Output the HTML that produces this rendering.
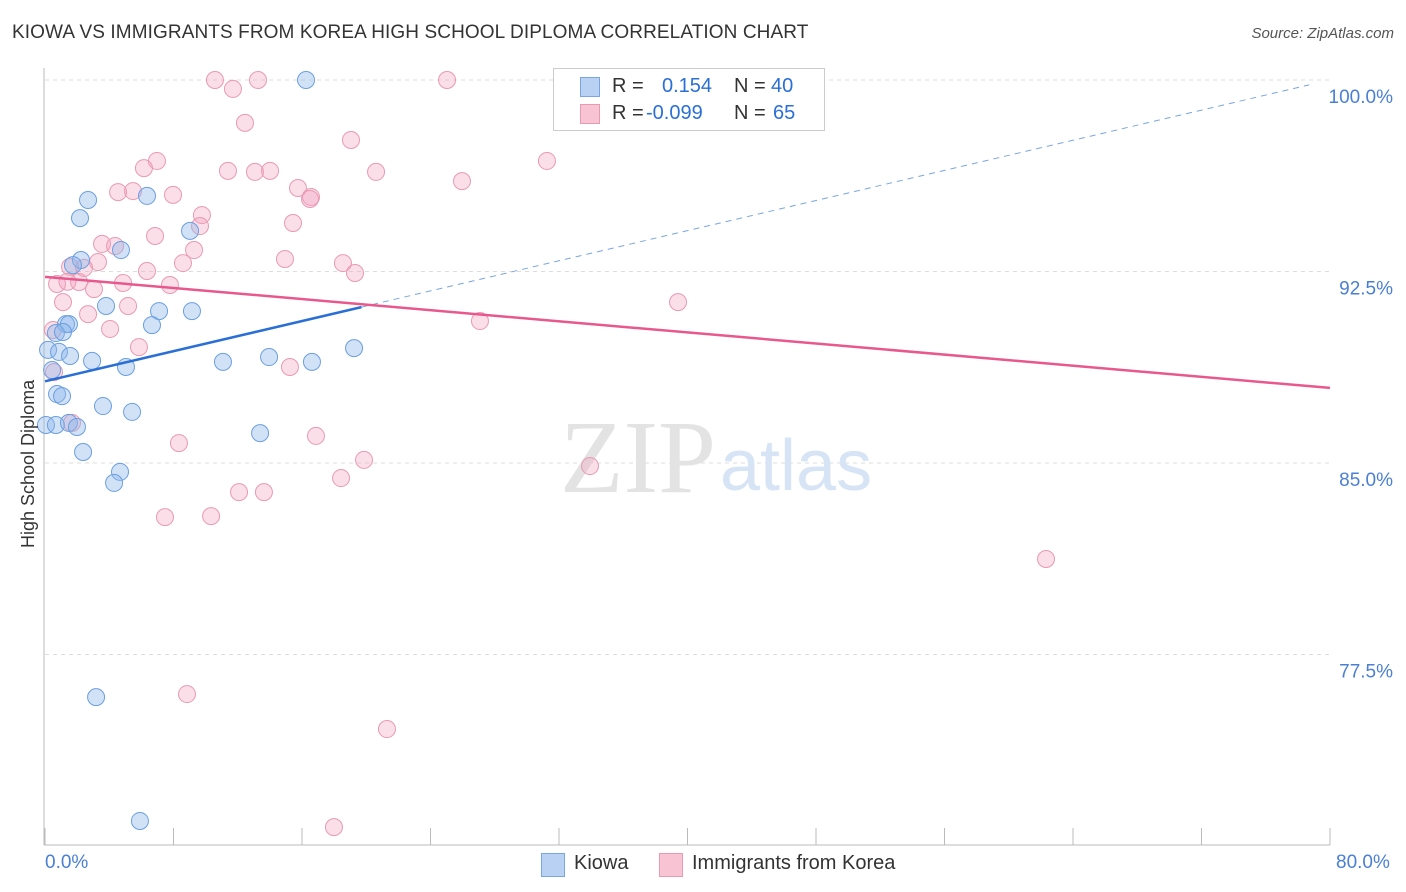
<!DOCTYPE html>
<html><head><meta charset="utf-8"><style>
body{margin:0;background:#fff;font-family:"Liberation Sans",sans-serif}
#wrap{position:relative;width:1406px;height:892px;overflow:hidden}
.t{position:absolute;white-space:nowrap}
</style></head><body>
<div id="wrap">
<div class="t" style="left:12px;top:22px;font-size:19px;color:#333;letter-spacing:0.1px">KIOWA VS IMMIGRANTS FROM KOREA HIGH SCHOOL DIPLOMA CORRELATION CHART</div>
<div class="t" style="right:12px;top:25px;font-size:15px;color:#555;font-style:italic">Source: ZipAtlas.com</div>
<svg id="svg" width="1406" height="892" style="position:absolute;left:0;top:0"></svg>
</div>
<script>
const blueX=[16.25,2.68,6.35,2.18,9.03,4.73,2.24,1.74,3.80,7.10,9.15,6.66,1.31,1.49,0.68,1.12,0.19,0.87,1.56,2.93,5.04,11.08,13.95,16.62,19.24,0.44,0.75,1.06,3.61,5.42,0.06,0.68,1.49,1.99,2.37,4.67,4.30,13.39,3.18,5.91];
const blueY=[100,95.30,95.46,94.59,94.09,93.34,92.95,92.75,91.15,90.95,90.95,90.40,90.44,90.44,90.09,90.13,89.43,89.35,89.19,89.0,88.76,88.96,89.15,88.96,89.50,88.64,87.70,87.62,87.23,87.0,86.49,86.49,86.57,86.41,85.43,84.65,84.22,86.17,75.83,70.98];
const pinkX=[10.58,13.26,25.03,11.70,12.45,19.05,6.97,31.25,6.16,11.39,13.07,14.01,20.61,25.96,4.55,5.48,7.97,15.75,16.56,16.50,9.77,9.65,15.44,6.85,3.55,4.36,9.28,1.56,3.30,2.43,14.94,18.55,8.59,6.35,19.30,0.75,2.12,3.05,4.86,7.78,1.12,5.17,2.68,4.05,0.50,5.85,27.08,39.41,15.25,0.56,1.68,8.34,16.87,19.86,33.93,18.43,12.08,13.63,7.47,10.34,62.32,8.84,21.29,17.99,1.4];
const pinkY=[100,100,100,99.65,98.32,97.65,96.83,96.83,96.55,96.44,96.40,96.44,96.40,96.04,95.61,95.65,95.50,95.77,95.42,95.34,94.71,94.28,94.40,93.89,93.58,93.50,93.34,92.68,92.87,92.64,92.99,92.83,92.83,92.52,92.44,92.01,92.09,91.81,92.05,91.97,91.30,91.15,90.83,90.25,90.21,89.54,90.56,91.30,88.76,88.56,86.57,85.78,86.06,85.12,84.88,84.41,83.86,83.86,82.88,82.92,81.24,75.95,74.58,70.74,92.1];
const yTicks=[100,92.5,85,77.5];
const yTickLabels=["100.0%","92.5%","85.0%","77.5%"];
const blueTrend=[88.2,100.0];
const pinkTrend=[92.29,87.94];
const NS="http://www.w3.org/2000/svg";
const svg=document.getElementById('svg');
const xs=v=>45+v/80*1285;
const ys=v=>80+(100-v)*25.533;
function mk(tag,attrs){const e=document.createElementNS(NS,tag);for(const k in attrs)e.setAttribute(k,attrs[k]);svg.appendChild(e);return e;}
yTicks.forEach((v,i)=>{
 const g=mk('line',{x1:45,x2:1330,y1:ys(v),y2:ys(v),stroke:'#ddd','stroke-dasharray':'4,4'});
 
 
 const t=mk('text',{x:1393,y:ys(v)+23,'text-anchor':'end','font-size':19,fill:'#4a7fd4','font-family':'Liberation Sans'});
 t.textContent=yTickLabels[i];
 
 
});
for(let i=0;i<=10;i++){
 const l=mk('line',{x1:xs(i*8),x2:xs(i*8),y1:828,y2:845,stroke:'#bbb'});
 
 
}
const ax=mk('line',{x1:44,x2:44,y1:68,y2:845,stroke:'#bbb'});


const bx=mk('line',{x1:44,x2:1330,y1:845,y2:845,stroke:'#bbb'});


const w1=mk('text',{x:716,y:492,'text-anchor':'end','font-size':104,fill:'#e3e3e3','font-family':'Liberation Serif'});
w1.textContent='ZIP';


const w2=mk('text',{x:720,y:490,'font-size':72,fill:'#d6e4f5','font-family':'Liberation Sans'});
w2.textContent='atlas';


function dots(X,Y,fill,stroke,name){X.forEach((x,i)=>{
 const c=mk('circle',{cx:xs(x),cy:ys(Y[i]),r:8.5,fill:fill,stroke:stroke,'stroke-width':1});
 
 
});}
dots(pinkX,pinkY,'rgba(242,160,188,0.35)','#e99ab3','korea-point');
dots(blueX,blueY,'rgba(140,182,234,0.4)','#6b9fe0','kiowa-point');
const bxEnd=19.7;
const by=x=>blueTrend[0]+(blueTrend[1]-blueTrend[0])*x/80;
const bl=mk('line',{x1:xs(0),y1:ys(blueTrend[0]),x2:xs(bxEnd),y2:ys(by(bxEnd)),stroke:'#2a6fd6','stroke-width':2.5});


const bd=mk('line',{x1:xs(bxEnd),y1:ys(by(bxEnd)),x2:xs(78.7),y2:ys(by(78.7)),stroke:'#7aa5e3','stroke-width':1,'stroke-dasharray':'6,5'});


const pl=mk('line',{x1:xs(0),y1:ys(pinkTrend[0]),x2:xs(80),y2:ys(pinkTrend[1]),stroke:'#e8588c','stroke-width':2.5});


</script>
<div class="t" style="left:18px;top:548px;transform:rotate(-90deg);transform-origin:0 0;font-size:18px;color:#333">High School Diploma</div>
<div class="t" style="left:45px;top:852px;font-size:19px;color:#4a7fd4">0.0%</div>
<div class="t" style="left:1336px;top:852px;font-size:19px;color:#4a7fd4">80.0%</div>
<div class="t" style="left:553px;top:68px;width:270px;height:61px;border:1px solid #ccc;background:#fff;font-size:20px;color:#333">
 <div style="position:absolute;left:26px;top:8px;width:18px;height:18px;background:#b9d2f3;border:1px solid #7aa5e3"></div>
 <div style="position:absolute;left:58px;top:6px">R =</div>
 <div style="position:absolute;left:108px;top:6px;color:#2a6fd6">0.154</div>
 <div style="position:absolute;left:180px;top:6px">N =</div>
 <div style="position:absolute;left:217px;top:6px;color:#2a6fd6">40</div>
 <div style="position:absolute;left:26px;top:35px;width:18px;height:18px;background:#f8c3d3;border:1px solid #e99ab3"></div>
 <div style="position:absolute;left:58px;top:33px">R =</div>
 <div style="position:absolute;left:92px;top:33px;color:#2a6fd6">-0.099</div>
 <div style="position:absolute;left:180px;top:33px">N =</div>
 <div style="position:absolute;left:219px;top:33px;color:#2a6fd6">65</div>
</div>
<div class="t" style="left:541px;top:853px;width:22px;height:22px;background:#b9d2f3;border:1px solid #7aa5e3"></div>
<div class="t" style="left:574px;top:852px;font-size:20px;color:#333">Kiowa</div>
<div class="t" style="left:659px;top:853px;width:22px;height:22px;background:#f8c3d3;border:1px solid #e99ab3"></div>
<div class="t" style="left:692px;top:852px;font-size:20px;color:#333">Immigrants from Korea</div>
</body></html>
